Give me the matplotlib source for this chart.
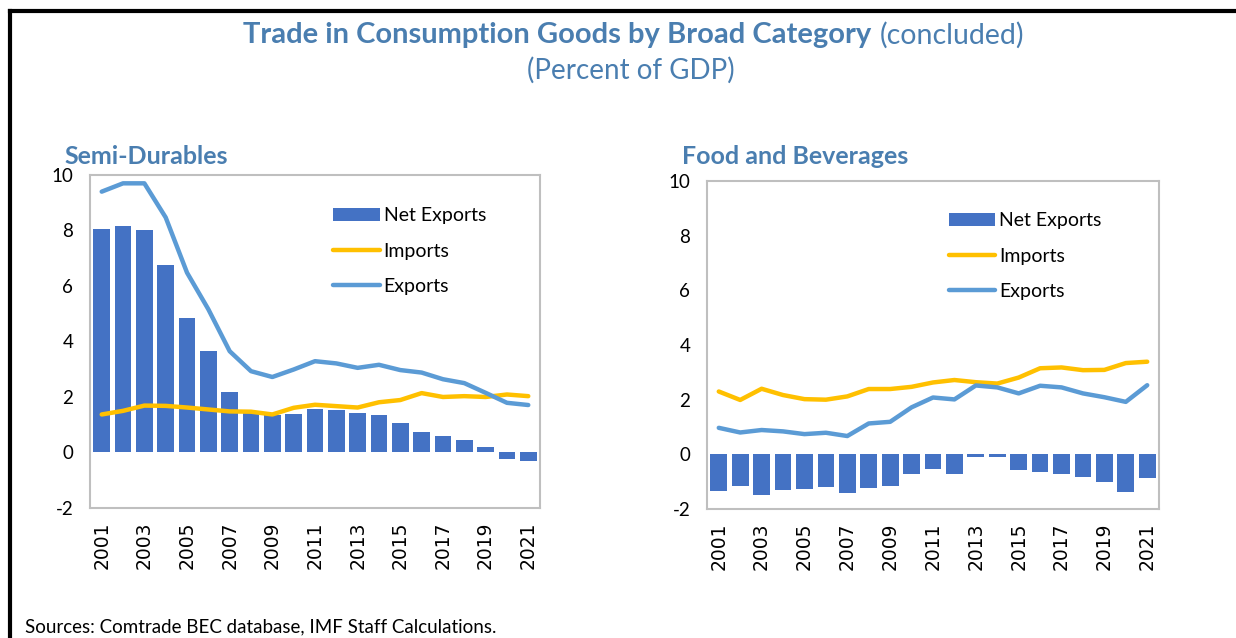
import matplotlib
matplotlib.use('Agg')
import matplotlib.pyplot as plt
from matplotlib.lines import Line2D

plt.rcParams['font.family'] = ['Lato', 'DejaVu Sans']
plt.rcParams['axes.unicode_minus'] = False

years = list(range(2001, 2022))
tick_years = [str(y) for y in years[::2]]

semi_net = [8.04, 8.16, 8.0, 6.75, 4.86, 3.64, 2.18, 1.42, 1.35, 1.38, 1.57, 1.54,
            1.44, 1.35, 1.07, 0.75, 0.61, 0.44, 0.18, -0.25, -0.31]
semi_imp = [1.37, 1.5, 1.69, 1.68, 1.62, 1.55, 1.48, 1.47, 1.37, 1.61, 1.72, 1.67,
            1.62, 1.81, 1.89, 2.14, 2.0, 2.03, 2.0, 2.09, 2.03]
semi_exp = [9.4, 9.7, 9.7, 8.47, 6.48, 5.16, 3.65, 2.93, 2.72, 2.99, 3.29, 3.21,
            3.05, 3.16, 2.97, 2.88, 2.64, 2.5, 2.15, 1.79, 1.71]

food_net = [-1.33, -1.16, -1.49, -1.30, -1.25, -1.18, -1.43, -1.24, -1.17, -0.73, -0.55,
            -0.72, -0.1, -0.11, -0.57, -0.65, -0.73, -0.83, -1.0, -1.39, -0.85]
food_imp = [2.30, 1.99, 2.40, 2.17, 2.02, 2.0, 2.12, 2.39, 2.39, 2.47, 2.63, 2.72,
            2.64, 2.59, 2.81, 3.15, 3.18, 3.08, 3.09, 3.34, 3.39]
food_exp = [0.97, 0.80, 0.89, 0.84, 0.74, 0.79, 0.67, 1.13, 1.19, 1.72, 2.08, 2.01,
            2.52, 2.45, 2.23, 2.51, 2.45, 2.23, 2.09, 1.92, 2.53]

TITLE_C = '#4A7EB0'
BAR_C = '#4472C4'
IMP_C = '#FFC000'
EXP_C = '#5B9BD5'

fig = plt.figure(figsize=(12.36, 6.38), dpi=100)

panels = [
    ('Semi-Durables', semi_net, semi_imp, semi_exp,
     [0.0728, 0.2038, 0.3641, 0.5219], 0.0525, (0.54, 0.903)),
    ('Food and Beverages', food_net, food_imp, food_exp,
     [0.572, 0.2022, 0.3657, 0.514], 0.552, (0.535, 0.905)),
]

for name, net, imp, exp, rect, title_x, leg_pos in panels:
    ax = fig.add_axes(rect)
    x = range(len(years))
    b = ax.bar(x, net, width=0.78, color=BAR_C, label='Net Exports', zorder=2)
    l1, = ax.plot(x, imp, color=IMP_C, lw=3.2, label='Imports', zorder=3,
                  solid_capstyle='round')
    l2, = ax.plot(x, exp, color=EXP_C, lw=3.2, label='Exports', zorder=3,
                  solid_capstyle='round')
    ax.set_ylim(-2, 10)
    ax.set_xlim(-0.55, 20.55)
    ax.set_yticks(range(-2, 11, 2))
    ax.set_xticks(list(x)[::2])
    ax.set_xticklabels(tick_years, rotation=90, family='DejaVu Sans', fontsize=12)
    ax.tick_params(length=0, labelsize=13.5)
    ax.tick_params(axis='x', pad=10)
    ax.tick_params(axis='y', pad=12)
    for s in ax.spines.values():
        s.set_color('#BFBFBF')
        s.set_linewidth(1.5)
    ax.legend([b, l1, l2], ['Net Exports', 'Imports', 'Exports'],
              loc='upper left', bbox_to_anchor=leg_pos, frameon=False,
              borderaxespad=0, borderpad=0,
              fontsize=14, handlelength=2.4, handletextpad=0.2, labelspacing=0.95)
    fig.text(title_x, 0.737, name, fontsize=18, fontweight='bold', color=TITLE_C,
             ha='left', va='bottom')

fig.text(0.7046, 0.945, 'Trade in Consumption Goods by Broad Category', fontsize=21,
         fontweight='bold', color=TITLE_C, ha='right', va='center')
fig.text(0.712, 0.945, '(concluded)', fontsize=20.5, color=TITLE_C, ha='left', va='center')
fig.text(0.51, 0.89, '(Percent of GDP)', fontsize=20, color=TITLE_C, ha='center', va='center')
fig.text(0.02, 0.004, 'Sources: Comtrade BEC database, IMF Staff Calculations.', fontsize=13.5,
         ha='left', va='bottom')

fig.add_artist(Line2D([0.0081, 1.0], [0.983, 0.983], color='black', lw=3))
fig.add_artist(Line2D([0.0081, 0.0081], [0.0, 0.983], color='black', lw=3))

fig.savefig('out.png', dpi=100)
